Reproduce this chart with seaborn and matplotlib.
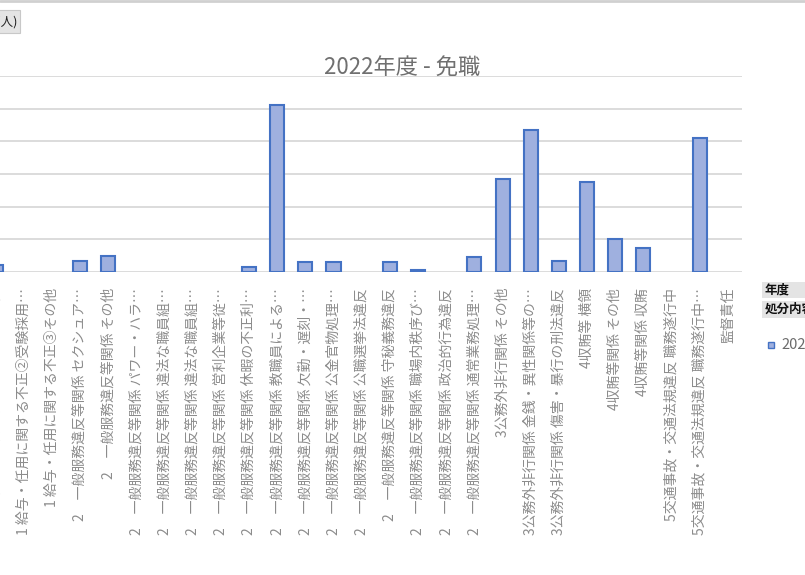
import matplotlib
matplotlib.use("Agg")
import matplotlib.pyplot as plt
from matplotlib.patches import Rectangle
from matplotlib.lines import Line2D
import seaborn as sns
import pandas as pd

# 処分内容（見えている範囲）と 2022年度 免職の人数
labels = [
    "1 給与・任用に関する不正①その他",
    "1 給与・任用に関する不正②受験採用…",
    "1 給与・任用に関する不正③その他",
    "2　一般服務違反等関係 セクシュア…",
    "2　一般服務違反等関係 その他",
    "2　一般服務違反等関係 パワー・ハラ…",
    "2　一般服務違反等関係 違法な職員組…",
    "2　一般服務違反等関係 違法な職員組…",
    "2　一般服務違反等関係 営利企業等従…",
    "2　一般服務違反等関係 休暇の不正利…",
    "2　一般服務違反等関係 教職員による…",
    "2　一般服務違反等関係 欠勤・遅刻・…",
    "2　一般服務違反等関係 公金官物処理…",
    "2　一般服務違反等関係 公職選挙法違反",
    "2　一般服務違反等関係 守秘義務違反",
    "2　一般服務違反等関係 職場内秩序び…",
    "2　一般服務違反等関係 政治的行為違反",
    "2　一般服務違反等関係 通常業務処理…",
    "3公務外非行関係 その他",
    "3公務外非行関係 金銭・異性関係等の…",
    "3公務外非行関係 傷害・暴行の刑法違反",
    "4収賄等 横領",
    "4収賄等関係 その他",
    "4収賄等関係 収賄",
    "5交通事故・交通法規違反 職務遂行中",
    "5交通事故・交通法規違反 職務遂行中…",
    "監督責任",
]
values = [4, 0, 0, 7, 10, 0, 0, 0, 0, 3, 102, 6, 6, 0, 6, 1, 0, 9,
          57, 87, 7, 55, 20, 15, 0, 82, 0]
series_name = "2022"
title = "2022年度 - 免職"

W, H = 805, 575


def fx(x):
    return x / W


def fy(y):
    return 1 - y / H


sns.set_style("white")
plt.rcParams['font.family'] = ['Noto Sans CJK JP', 'DejaVu Sans']

fig = plt.figure(figsize=(W / 100, H / 100), dpi=100)

# 軸は左側が画像の外にはみ出している
left_px, right_px, top_px, base_px = -18.6, 742, 76, 272
ax = fig.add_axes([fx(left_px), fy(base_px), (right_px - left_px) / W, (base_px - top_px) / H])

df = pd.DataFrame({"idx": list(range(len(values))), "value": values})
sns.barplot(data=df, x="idx", y="value", color="#9fb0df", saturation=1,
            width=0.5, edgecolor="#4472c4", linewidth=1.5, ax=ax)
# 0件の棒は枠線も描かない
for p in ax.patches:
    if p.get_height() == 0:
        p.set_visible(False)

ax.set_xlim(-0.5, len(values) - 0.5)
ax.set_ylim(0, 120)
ax.set_yticks(range(0, 121, 20))
ax.yaxis.grid(True, color="#d9d9d9", linewidth=1.3)
ax.set_axisbelow(True)
for s in ax.spines.values():
    s.set_visible(False)
ax.tick_params(axis="y", left=False, labelleft=False)
ax.tick_params(axis="x", bottom=False, pad=8)
ax.set_xticks(range(len(labels)))
ax.set_xticklabels(labels, rotation=90, fontsize=10, color="#8c8c8c")
ax.set_xlabel("")
ax.set_ylabel("")

fig.text(fx(402), fy(67), title, ha="center", va="center", fontsize=16, color="#707070")

# 上の枠線
fig.add_artist(Line2D([0, 1], [fy(1), fy(1)], color="#d0d0d0", linewidth=2, transform=fig.transFigure))

# 左上のフィールドボタン
fig.add_artist(Rectangle((fx(-40), fy(33)), fx(60), 23 / H, transform=fig.transFigure,
                         facecolor="#e4e4e4", edgecolor="#c8c8c8", linewidth=0.8))
fig.text(fx(17), fy(22), "合計 / 人数(人)", ha="right", va="center", fontsize=9, color="#222222")

# 右側の凡例・フィールドボタン
fig.add_artist(Rectangle((fx(762), fy(298)), fx(60), 16 / H, transform=fig.transFigure,
                         facecolor="#e4e4e4", edgecolor="none"))
fig.text(fx(765), fy(290), "年度", ha="left", va="center", fontsize=9, color="#111111", fontweight="bold")
fig.add_artist(Rectangle((fx(762), fy(318)), fx(60), 17 / H, transform=fig.transFigure,
                         facecolor="#e4e4e4", edgecolor="none"))
fig.text(fx(765), fy(309), "処分内容", ha="left", va="center", fontsize=9, color="#111111", fontweight="bold")
fig.add_artist(Rectangle((fx(768), fy(348)), fx(6), 6 / H, transform=fig.transFigure,
                         facecolor="#9fb0df", edgecolor="#4472c4", linewidth=1))
fig.text(fx(781), fy(345), series_name, ha="left", va="center", fontsize=10.5, color="#6b6b6b")

fig.savefig("out.png", dpi=100)
